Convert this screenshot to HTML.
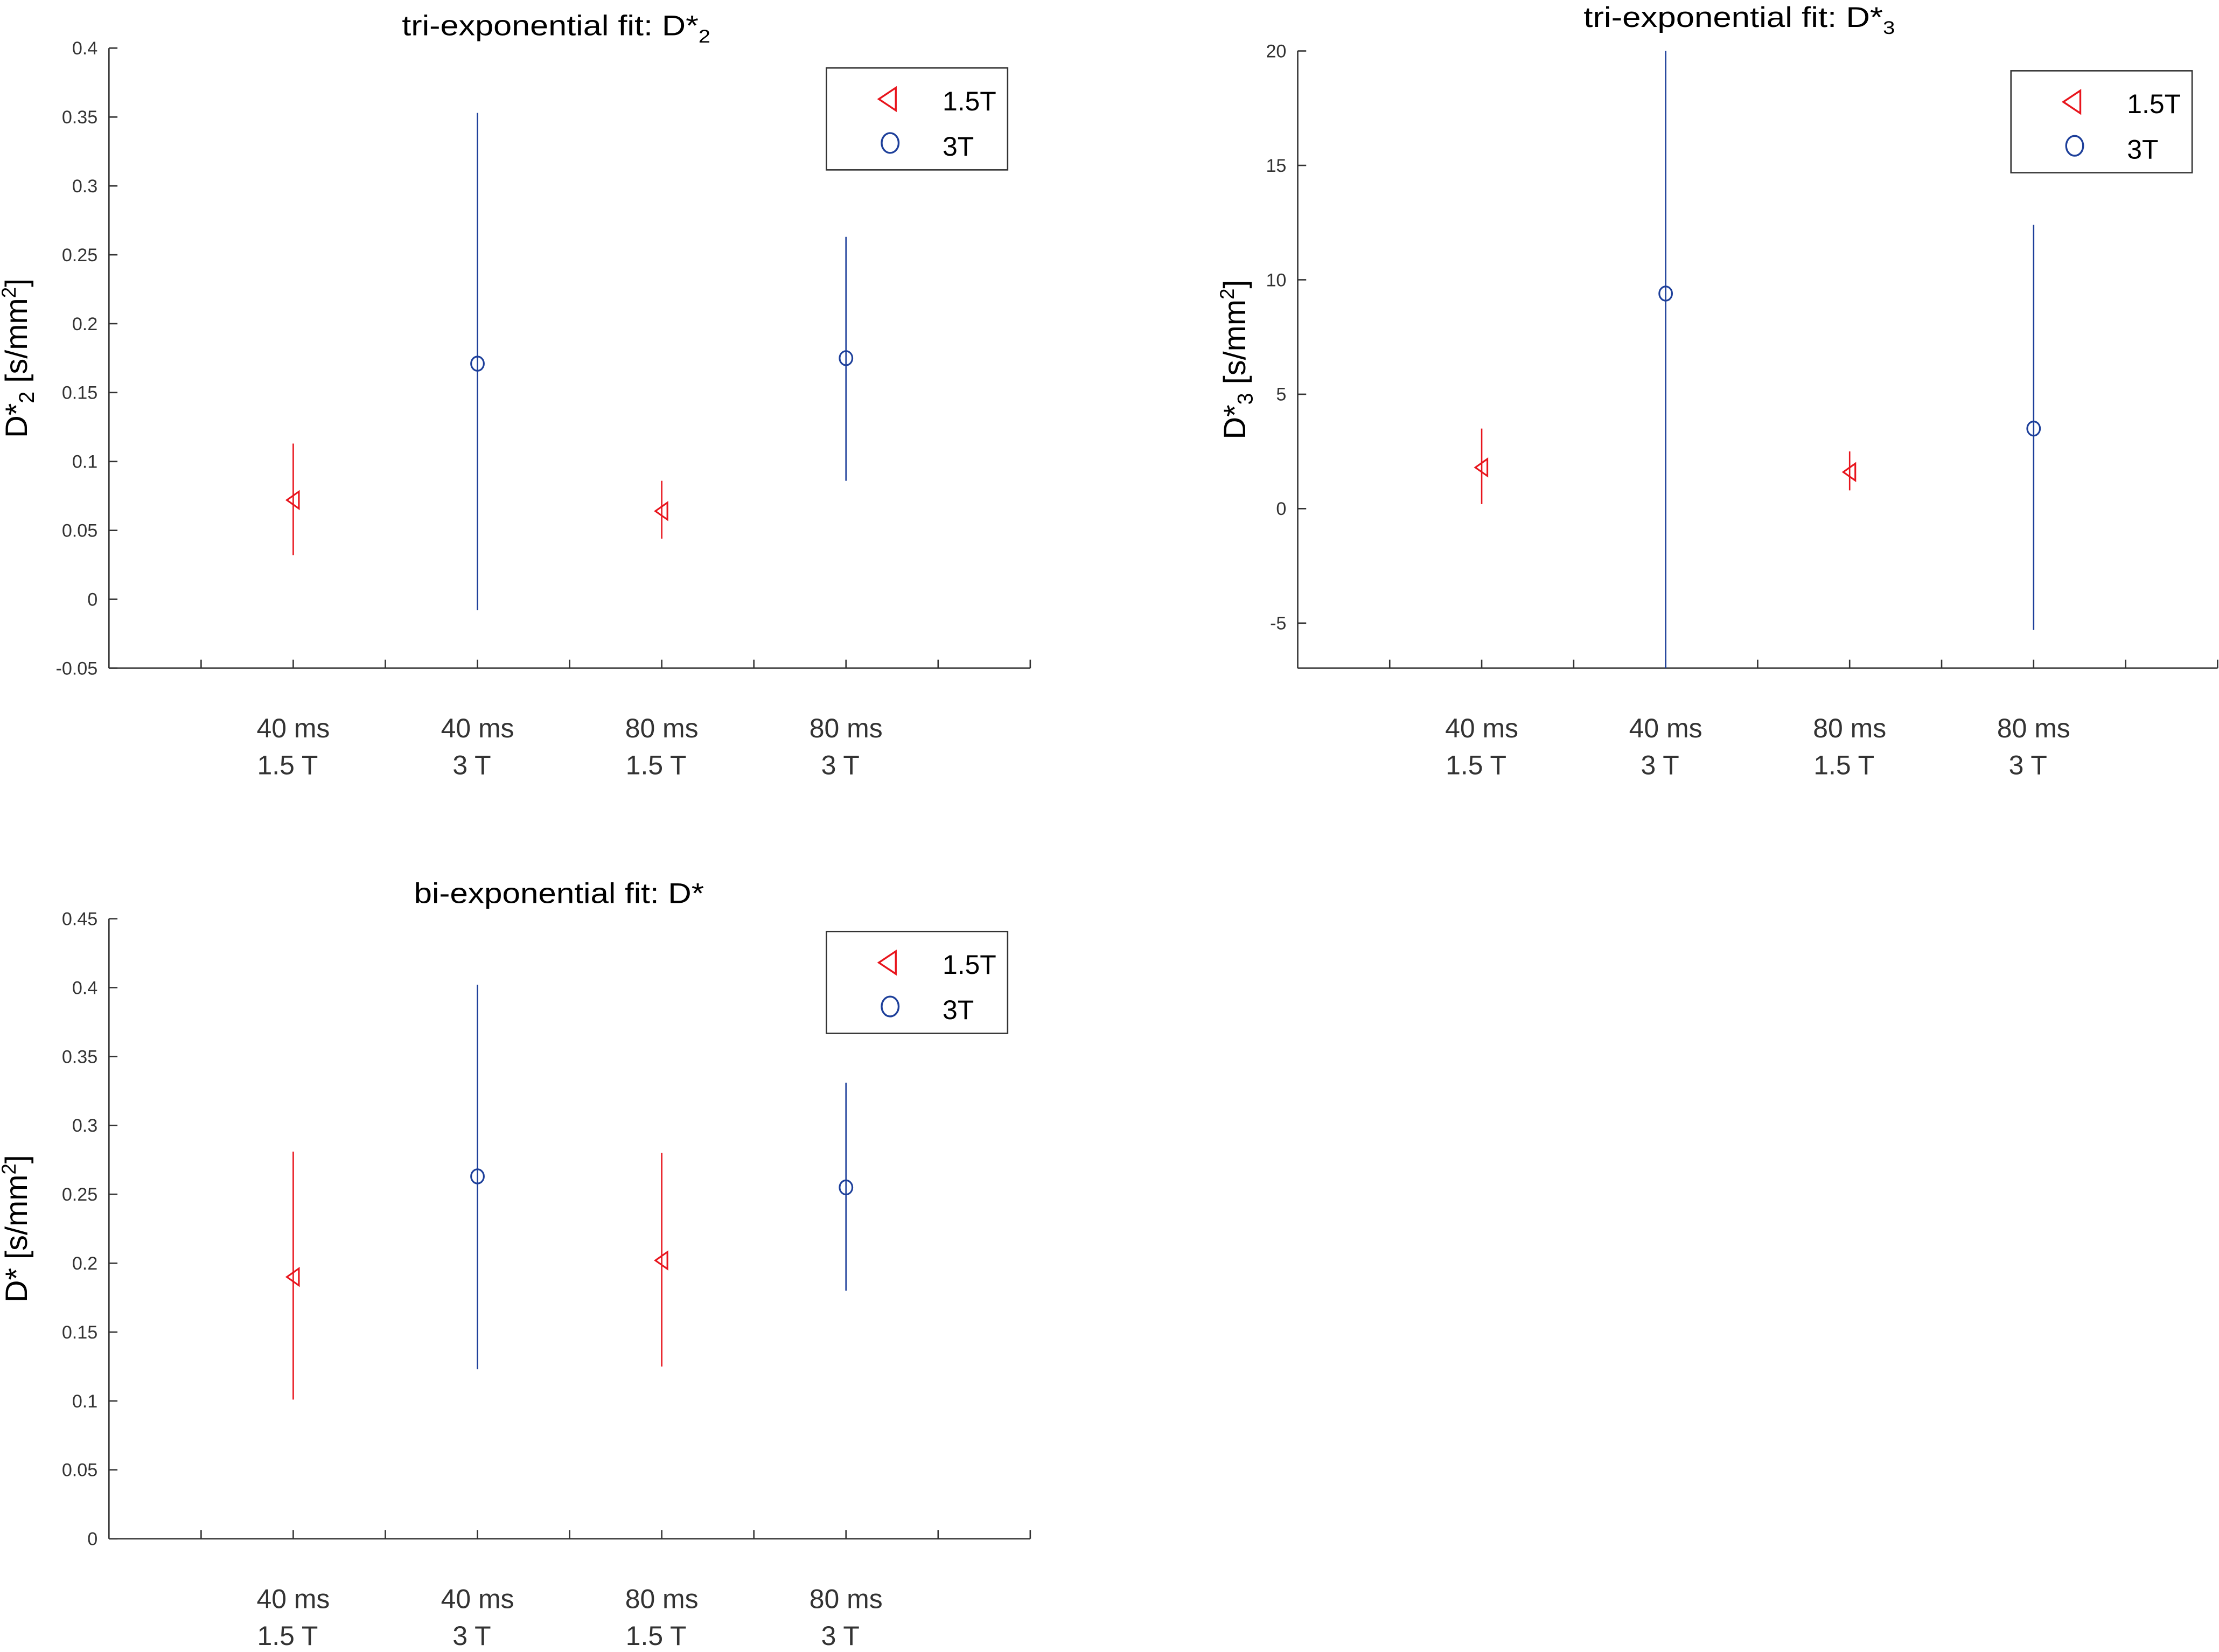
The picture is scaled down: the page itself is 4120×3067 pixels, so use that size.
<!DOCTYPE html>
<html><head><meta charset="utf-8">
<style>
html,body{margin:0;padding:0;background:#fff;}
svg{display:block;}
text{font-family:"Liberation Sans",sans-serif;}
</style></head>
<body>
<svg id="fig" width="4120" height="3067" viewBox="0 0 1568 1167" preserveAspectRatio="none" xmlns="http://www.w3.org/2000/svg"></svg>
<script>
// ---- data ----
const categories = ["40 ms|1.5 T","40 ms|3 T","80 ms|1.5 T","80 ms|3 T"];
const catX = [2,4,6,8];
const groups = ["1.5T","3T","1.5T","3T"];
// panel 1: tri-exponential D*2
const p1Mean = [0.072,0.171,0.064,0.175];
const p1Low  = [0.032,-0.008,0.044,0.086];
const p1High = [0.113,0.353,0.086,0.263];
const p1Ticks = [-0.05,0,0.05,0.1,0.15,0.2,0.25,0.3,0.35,0.4];
// panel 2: tri-exponential D*3
const p2Mean = [1.8,9.4,1.6,3.5];
const p2Low  = [0.2,-7,0.8,-5.3];
const p2High = [3.5,20,2.5,12.4];
const p2Ticks = [-5,0,5,10,15,20];
// panel 3: bi-exponential D*
const p3Mean = [0.19,0.263,0.202,0.255];
const p3Low  = [0.101,0.123,0.125,0.18];
const p3High = [0.281,0.402,0.28,0.331];
const p3Ticks = [0,0.05,0.1,0.15,0.2,0.25,0.3,0.35,0.4,0.45];

const NS="http://www.w3.org/2000/svg";
const svg=document.getElementById('fig');
const RED="#e8141c", BLUE="#1d3f9a";
function el(tag,attrs,parent){const e=document.createElementNS(NS,tag);for(const k in attrs)e.setAttribute(k,attrs[k]);(parent||svg).appendChild(e);return e;}

function panel(cfg){
  const g=el('g',{});
  
  
  const {L,R,T,B,ymin,ymax}=cfg;
  const sx=v=>L+(R-L)*v/10;
  const sy=v=>B-(B-T)*(v-ymin)/(ymax-ymin);
  const ax=el('line',{x1:L,y1:B,x2:R,y2:B,stroke:"#333","stroke-width":1},g);
  
  
  const ay=el('line',{x1:L,y1:T,x2:L,y2:B,stroke:"#333","stroke-width":1},g);
  
  
  for(let k=1;k<=10;k++){el('line',{x1:sx(k),y1:B,x2:sx(k),y2:B-6,stroke:"#333","stroke-width":1},g);}
  cfg.ticks.forEach(t=>{
    el('line',{x1:L,y1:sy(t),x2:L+6,y2:sy(t),stroke:"#333","stroke-width":1},g);
    const tx=el('text',{x:L-8,y:sy(t)+4.5,"font-size":13,"text-anchor":"end",fill:"#333"},g);
    tx.textContent=String(t);
    
    
  });
  categories.forEach((c,i)=>{
    const parts=c.split('|');
    const t1=el('text',{x:sx(catX[i]),y:B+49,"font-size":19,"text-anchor":"middle",fill:"#333"},g);
    t1.textContent=parts[0];
    
    
    const t2=el('text',{x:sx(catX[i])-4,y:B+75,"font-size":19,"text-anchor":"middle",fill:"#333"},g);
    t2.textContent=parts[1];
    
    
  });
  const ti=el('text',{x:cfg.tx,y:cfg.ty,"font-size":20,"text-anchor":"middle",fill:"#000",textLength:cfg.tw,lengthAdjust:"spacingAndGlyphs"},g);
  
  
  ti.innerHTML=cfg.title;
  const yl=el('text',{x:0,y:0,"font-size":22,"text-anchor":"middle",fill:"#000",transform:`translate(${L-cfg.ylo},${(T+B)/2}) rotate(-90)`},g);
  
  
  yl.innerHTML=cfg.ylabel;
  for(let i=0;i<catX.length;i++){
    const col=groups[i]==="3T"?BLUE:RED;
    const x=sx(catX[i]);
    const lo=Math.max(cfg.low[i],ymin), hi=Math.min(cfg.high[i],ymax);
    const eb=el('line',{x1:x,y1:sy(lo),x2:x,y2:sy(hi),stroke:col,"stroke-width":1},g);
    
    
    const y=sy(cfg.mean[i]);
    let m;
    if(groups[i]==="3T"){
      m=el('ellipse',{cx:x,cy:y,rx:4.5,ry:5,fill:"none",stroke:col,"stroke-width":1.2},g);
    } else {
      m=el('polygon',{points:`${x-4.5},${y} ${x+4},${y-6} ${x+4},${y+6}`,fill:"none",stroke:col,"stroke-width":1.2},g);
    }
    
    
  }
  const lg=el('g',{},g);
  
  
  const lx=cfg.lx, ly=cfg.ly;
  el('rect',{x:lx,y:ly,width:128,height:72,fill:"#fff",stroke:"#333","stroke-width":1},lg);
  el('polygon',{points:`${lx+37},${ly+22} ${lx+49},${ly+14} ${lx+49},${ly+30}`,fill:"none",stroke:RED,"stroke-width":1.3},lg);
  el('ellipse',{cx:lx+45,cy:ly+53,rx:6,ry:7,fill:"none",stroke:BLUE,"stroke-width":1.3},lg);
  const a=el('text',{x:lx+82,y:ly+30,"font-size":19,fill:"#000"},lg);a.textContent="1.5T";
  
  
  const b=el('text',{x:lx+82,y:ly+62,"font-size":19,fill:"#000"},lg);b.textContent="3T";
  
  
}

panel({name:'panel-tri-d2',L:77,R:728,T:34,B:472,ymin:-0.05,ymax:0.4,ticks:p1Ticks,mean:p1Mean,low:p1Low,high:p1High,ylo:58,
  tx:393,ty:25,tw:218,title:'tri-exponential fit:  D*<tspan font-size="13" dy="5">2</tspan>',
  ylabel:'D*<tspan font-size="15" dy="5">2</tspan><tspan dy="-5"> [s/mm</tspan><tspan font-size="14" dy="-8">2</tspan><tspan dy="8">]</tspan>',lx:584,ly:48});
panel({name:'panel-tri-d3',L:917,R:1567,T:36,B:472,ymin:-6.97,ymax:20,ticks:p2Ticks,mean:p2Mean,low:p2Low,high:p2High,ylo:37,
  tx:1229,ty:19,tw:220,title:'tri-exponential fit:  D*<tspan font-size="13" dy="5">3</tspan>',
  ylabel:'D*<tspan font-size="15" dy="5">3</tspan><tspan dy="-5"> [s/mm</tspan><tspan font-size="14" dy="-8">2</tspan><tspan dy="8">]</tspan>',lx:1421,ly:50});
panel({name:'panel-bi-d',L:77,R:728,T:649,B:1087,ymin:0,ymax:0.45,ticks:p3Ticks,mean:p3Mean,low:p3Low,high:p3High,ylo:58,
  tx:395,ty:638,tw:205,title:'bi-exponential fit: D*',
  ylabel:'D* [s/mm<tspan font-size="14" dy="-8">2</tspan><tspan dy="8">]</tspan>',lx:584,ly:658});
</script>
</body></html>
